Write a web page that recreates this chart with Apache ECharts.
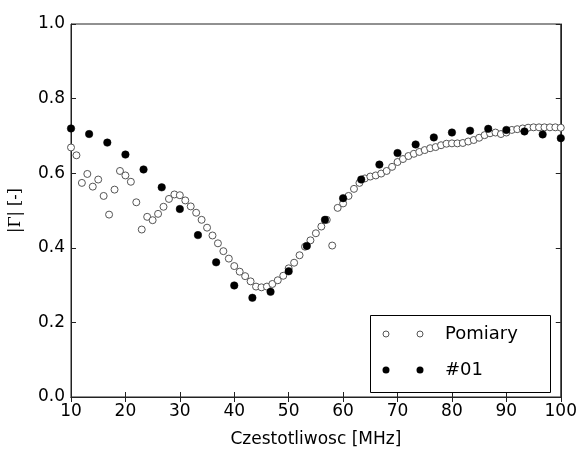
<!DOCTYPE html>
<html>
<head>
<meta charset="utf-8">
<script src="https://cdn.jsdelivr.net/npm/echarts@6/dist/echarts.min.js"></script>
<style>html,body{margin:0;padding:0;background:#fff}#c{width:580px;height:453px}</style>
</head>
<body>
<div id="c"></div>
<script>
// Pomiary: measured |Gamma| at 10..100 MHz, 1 MHz step
const pomiaryFreq = [10,11,12,13,14,15,16,17,18,19,20,21,22,23,24,25,26,27,28,29,30,31,32,33,34,35,36,37,38,39,40,41,42,43,44,45,46,47,48,49,50,51,52,53,54,55,56,57,58,59,60,61,62,63,64,65,66,67,68,69,70,71,72,73,74,75,76,77,78,79,80,81,82,83,84,85,86,87,88,89,90,91,92,93,94,95,96,97,98,99,100];
const pomiaryVals = [0.669,0.648,0.574,0.598,0.564,0.583,0.539,0.489,0.556,0.606,0.594,0.577,0.522,0.449,0.483,0.474,0.491,0.510,0.531,0.543,0.541,0.527,0.511,0.494,0.475,0.454,0.433,0.412,0.391,0.371,0.351,0.336,0.324,0.310,0.296,0.294,0.296,0.303,0.313,0.325,0.345,0.360,0.380,0.403,0.420,0.439,0.457,0.475,0.406,0.507,0.519,0.539,0.558,0.574,0.586,0.591,0.594,0.599,0.606,0.617,0.630,0.638,0.646,0.652,0.657,0.662,0.667,0.670,0.675,0.679,0.680,0.680,0.681,0.685,0.689,0.695,0.702,0.707,0.709,0.705,0.709,0.716,0.718,0.720,0.722,0.723,0.723,0.723,0.723,0.723,0.722];
// #01: model |Gamma| at 28 points from 10 to 100 MHz
const modelFreq = [10,13.33,16.67,20,23.33,26.67,30,33.33,36.67,40,43.33,46.67,50,53.33,56.67,60,63.33,66.67,70,73.33,76.67,80,83.33,86.67,90,93.33,96.67,100];
const modelVals = [0.720,0.705,0.682,0.650,0.610,0.562,0.504,0.434,0.361,0.299,0.266,0.282,0.337,0.405,0.475,0.533,0.583,0.623,0.654,0.677,0.696,0.709,0.714,0.719,0.716,0.712,0.704,0.694];
const xTicks = [10,20,30,40,50,60,70,80,90,100];
const yTicks = [0.0,0.2,0.4,0.6,0.8,1.0];
const seriesNames = ['Pomiary','#01'];
const xTitle = 'Czestotliwosc [MHz]';
const yTitle = '|Γ| [-]';

const chart = echarts.init(document.getElementById('c'), null, {renderer:'canvas'});
const fontTick = {color:'#000', fontFamily:'DejaVu Sans', fontSize:17};
const axisCommon = {
  axisLine:{show:true, lineStyle:{color:'#222', width:1}},
  axisTick:{show:true, inside:true, length:5, lineStyle:{color:'#222'}},
  splitLine:{show:false}
};
const legX = 370, legY = 315, legW = 180, legH = 77;
chart.setOption({
  animation:false,
  backgroundColor:'#fff',
  grid:{left:70, right:18, top:24, bottom:50, show:true, borderColor:'#222', borderWidth:1, backgroundColor:'transparent'},
  xAxis:[
    Object.assign({type:'value', min:10, max:100, interval:10, position:'bottom',
      axisLabel:Object.assign({margin:6, formatter:v=>xTicks.includes(v)?String(v):''}, fontTick),
      name:xTitle, nameLocation:'middle', nameGap:34,
      nameTextStyle:{color:'#000', fontFamily:'DejaVu Sans', fontSize:17}}, axisCommon),
    Object.assign({type:'value', min:10, max:100, interval:10, position:'top', axisLabel:{show:false}}, axisCommon)
  ],
  yAxis:[
    Object.assign({type:'value', min:0, max:1, interval:0.2, position:'left',
      axisLabel:Object.assign({margin:6, formatter:v=>v.toFixed(1)}, fontTick),
      name:yTitle, nameLocation:'middle', nameGap:47,
      nameTextStyle:{color:'#000', fontFamily:'DejaVu Serif', fontSize:16}}, axisCommon),
    Object.assign({type:'value', min:0, max:1, interval:0.2, position:'right', axisLabel:{show:false}}, axisCommon)
  ],
  series:[
    {name:seriesNames[0], type:'scatter', symbol:'circle', symbolSize:7,
     itemStyle:{color:'#fff', borderColor:'#555', borderWidth:1, opacity:1},
     data:pomiaryFreq.map((f,i)=>[f,pomiaryVals[i]]), z:2},
    {name:seriesNames[1], type:'scatter', symbol:'circle', symbolSize:7.5,
     itemStyle:{color:'#000', borderColor:'#000', borderWidth:0.5, opacity:1},
     data:modelFreq.map((f,i)=>[f,modelVals[i]]), z:3}
  ],
  graphic:[
    {type:'rect', left:legX, top:legY, shape:{width:legW, height:legH}, style:{fill:'#fff', stroke:'#000', lineWidth:1}, z:10},
    {type:'circle', shape:{cx:legX+16, cy:legY+19, r:3}, style:{fill:'#fff', stroke:'#555', lineWidth:1}, z:11},
    {type:'circle', shape:{cx:legX+50, cy:legY+19, r:3}, style:{fill:'#fff', stroke:'#555', lineWidth:1}, z:11},
    {type:'text', x:legX+75, y:legY+19, style:{text:seriesNames[0], fill:'#000', font:'18px "DejaVu Sans"', textVerticalAlign:'middle', verticalAlign:'middle'}, z:11},
    {type:'circle', shape:{cx:legX+16, cy:legY+55, r:3.5}, style:{fill:'#000'}, z:11},
    {type:'circle', shape:{cx:legX+50, cy:legY+55, r:3.5}, style:{fill:'#000'}, z:11},
    {type:'text', x:legX+75, y:legY+55, style:{text:seriesNames[1], fill:'#000', font:'18px "DejaVu Sans"', textVerticalAlign:'middle', verticalAlign:'middle'}, z:11}
  ]
});
</script>
</body>
</html>
